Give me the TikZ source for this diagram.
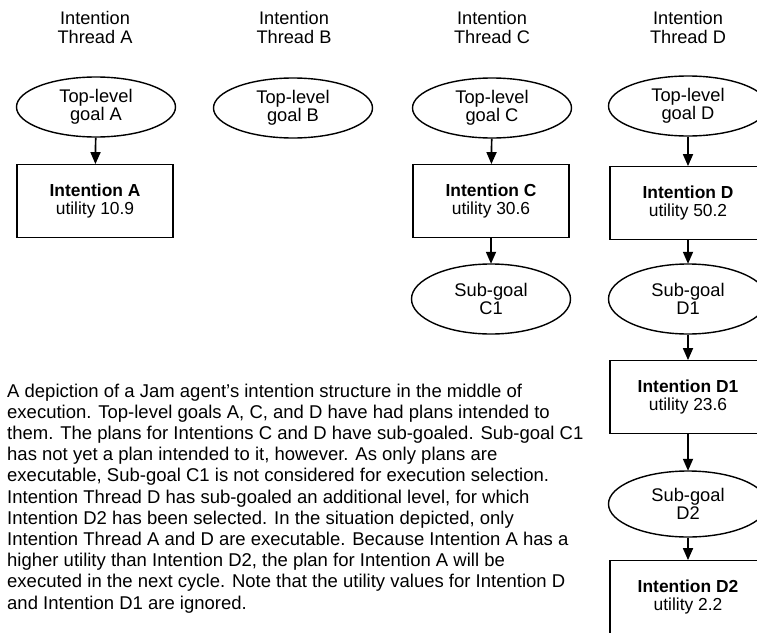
\documentclass[tikz,border=0pt]{standalone}
\usepackage{fontspec}
\setmainfont{Liberation Sans}
\usetikzlibrary{shapes.geometric,arrows.meta}
\begin{document}
\begin{tikzpicture}[x=1pt,y=-1pt,
  every node/.style={inner sep=0pt, align=center},
  goal/.style={draw, line width=1.4pt, ellipse, minimum width=159pt, minimum height=60pt,
    font=\fontsize{18.3}{18}\selectfont},
  subgoal/.style={goal, minimum height=70pt},
  intent/.style={draw, line width=1.8pt, rectangle, minimum width=156pt, minimum height=73pt,
    font=\fontsize{17.4}{18.5}\selectfont},
  title/.style={anchor=north, font=\fontsize{18.2}{19.3}\selectfont},
  link/.style={line width=1.7pt, -{Triangle[length=12pt,width=10pt]}, shorten >=-0.5pt}
]
\useasboundingbox (0,0) rectangle (757,632);
\clip (0,0) rectangle (757,632);

% thread headings
\node[title] (tA) at (95,11) {Intention\\Thread A};
\node[title] (tB) at (294,11) {Intention\\Thread B};
\node[title] (tC) at (492,11) {Intention\\Thread C};
\node[title] (tD) at (688,11) {Intention\\Thread D};

% top-level goals
\node[goal] (gA) at (96,107) {Top-level\\goal A};
\node[goal] (gB) at (293,108) {Top-level\\goal B};
\node[goal] (gC) at (492,108) {Top-level\\goal C};
\node[goal] (gD) at (688,106) {Top-level\\goal D};

% intentions on the first level
\node[intent] (iA) at (95,201) {\textbf{Intention A}\\utility 10.9};
\node[intent] (iC) at (491,201) {\textbf{Intention C}\\utility 30.6};
\node[intent] (iD) at (688,203) {\textbf{Intention D}\\utility 50.2};

% sub-goals and deeper intentions
\node[subgoal] (sC1) at (491,299) {Sub-goal\\C1};
\node[subgoal] (sD1) at (688,299) {Sub-goal\\D1};
\node[intent] (iD1) at (688,397) {\textbf{Intention D1}\\utility 23.6};
\node[subgoal, minimum height=66pt] (sD2) at (688,504) {Sub-goal\\D2};
\node[intent] (iD2) at (688,597) {\textbf{Intention D2}\\utility 2.2};

\draw[link] (gA) -- (iA);
\draw[link] (gC) -- (iC);
\draw[link] (gD) -- (iD);
\draw[link] (iC) -- (sC1);
\draw[link] (iD) -- (sD1);
\draw[link] (sD1) -- (iD1);
\draw[link] (iD1) -- (sD2);
\draw[link] (sD2) -- (iD2);

% caption
\node[anchor=north west, align=left, font=\fontsize{18.5}{21.2}\selectfont] (cap) at (7,383.5) {%
A depiction of a Jam agent's intention structure in the middle of\\
execution. Top-level goals A, C, and D have had plans intended to\\
them. The plans for Intentions C and D have sub-goaled. Sub-goal C1\\
has not yet a plan intended to it, however. As only plans are\\
executable, Sub-goal C1 is not considered for execution selection.\\
Intention Thread D has sub-goaled an additional level, for which\\
Intention D2 has been selected. In the situation depicted, only\\
Intention Thread A and D are executable. Because Intention A has a\\
higher utility than Intention D2, the plan for Intention A will be\\
executed in the next cycle. Note that the utility values for Intention D\\
and Intention D1 are ignored.};
\end{tikzpicture}
\end{document}
